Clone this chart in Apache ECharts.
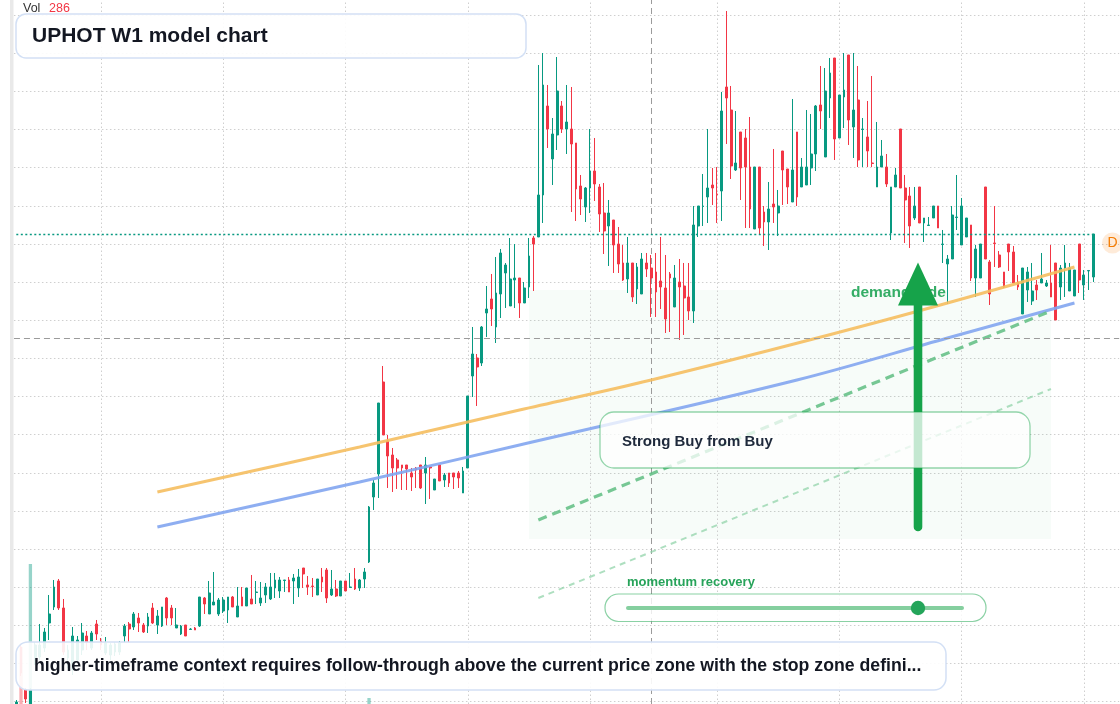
<!DOCTYPE html>
<html><head><meta charset="utf-8">
<script src="https://cdn.jsdelivr.net/npm/echarts@6/dist/echarts.min.js"></script>
<style>html,body{margin:0;padding:0;background:#fff;overflow:hidden}#c{width:1120px;height:704px}</style>
</head><body><div id="c"></div>
<script>
// ---- categories (weekly bars + a few empty future weeks) ----
const weeks = [];
for (let i = 0; i < 235; i++) {
  const d = new Date(Date.UTC(2020, 0, 6 + 7 * i));
  weeks.push(d.toISOString().slice(0, 10));
}
// week indices carrying the vertical grid lines
const gridWeeks = [18, 44, 70, 96, 122, 149, 175, 201, 227];

// ---- OHLC (price) ----
const open = [1.03,1.68,1.25,1.10,1.55,1.58,1.67,1.92,2.08,2.34,2.07,1.57,1.45,1.55,1.65,1.79,1.67,1.91,1.74,1.62,
1.60,1.63,1.63,1.79,1.91,1.88,1.97,1.90,1.89,2.07,1.90,1.89,2.17,2.07,1.87,1.81,1.90,1.855,1.87,1.89,
2.17,2.01,2.10,2.01,2.04,2.05,2.18,1.98,2.18,2.09,2.16,2.225,2.12,2.20,2.16,2.27,2.24,2.345,2.35,2.34,
2.27,2.47,2.30,2.29,2.20,2.38,2.45,2.20,2.26,2.19,2.34,2.275,2.36,2.27,2.36,2.53,3.18,3.41,4.33,3.74,
3.60,3.55,3.50,3.50,3.42,3.47,3.50,3.42,3.48,3.25,3.50,3.35,3.42,3.42,3.42,3.22,3.47,4.39,4.57,4.52,
5.02,5.16,4.88,5.21,5.42,5.09,5.35,5.37,5.12,5.28,5.77,5.78,6.20,7.09,6.56,6.80,7.09,6.86,6.86,6.72,
6.29,6.08,6.27,6.44,6.28,6.02,5.89,5.95,5.71,5.52,5.36,5.52,5.26,5.21,5.52,5.47,5.43,5.34,5.27,5.41,
5.08,5.33,5.29,5.18,5.04,5.89,6.085,6.18,6.30,6.21,6.24,7.28,7.05,6.45,6.83,6.77,6.48,5.86,6.48,6.03,
5.93,6.11,6.02,6.64,6.46,6.13,6.83,6.28,6.30,6.47,6.61,7.10,6.58,7.17,7.57,6.77,7.18,7.60,6.88,7.15,
6.855,6.78,6.52,6.28,6.48,6.48,5.82,6.28,6.86,6.27,6.19,5.97,6.28,5.92,5.895,5.97,6.09,5.705,5.51,5.56,
5.975,5.70,5.78,5.90,5.37,5.37,6.28,5.53,5.72,5.60,5.43,5.71,5.63,5.33,5.01,5.25,5.14,5.30,5.32,5.29,
5.32,5.52,5.28,5.47,5.24,5.19,5.71,5.30,5.44,5.38];
const close = [1.13,1.42,1.16,1.25,1.70,1.70,1.83,2.01,2.28,2.07,1.63,1.65,1.79,1.75,1.82,1.73,1.82,1.81,1.70,1.72,
1.70,1.71,1.72,1.89,1.86,2.01,1.92,1.83,1.98,1.92,1.99,2.08,1.97,1.97,1.90,1.89,1.79,1.86,1.85,2.18,
2.11,2.22,2.13,2.15,2.15,2.18,2.08,2.09,2.09,2.27,2.11,2.23,2.17,2.28,2.28,2.35,2.35,2.35,2.23,2.37,
2.38,2.41,2.28,2.285,2.36,2.33,2.17,2.26,2.19,2.34,2.24,2.28,2.26,2.35,2.43,3.08,3.32,4.12,3.80,3.59,
3.47,3.47,3.47,3.46,3.38,3.45,3.27,3.50,3.47,3.36,3.34,3.40,3.32,3.38,3.37,3.44,4.19,4.61,4.48,4.88,
5.06,5.06,5.22,5.62,5.50,5.36,5.37,5.12,5.27,5.59,5.71,6.20,7.30,6.86,6.81,7.24,6.86,6.93,6.71,6.26,
6.16,6.27,6.44,6.31,6.01,5.84,6.02,5.70,5.51,5.35,5.52,5.18,5.48,5.56,5.46,5.37,5.23,5.28,4.96,5.37,
5.37,5.28,5.17,5.04,5.90,6.09,6.09,6.27,6.27,6.205,7.04,7.17,6.49,6.52,6.47,6.48,6.06,6.48,5.87,5.93,
6.06,6.08,6.09,6.45,6.28,6.45,6.18,6.48,6.48,6.61,7.09,7.04,7.24,7.42,6.76,7.20,7.25,6.95,7.05,6.55,
6.86,6.64,6.515,6.48,6.59,6.31,6.28,6.40,6.27,6.15,5.89,6.09,5.92,5.97,5.90,6.09,5.87,5.71,5.56,6.00,
5.98,6.09,5.97,5.37,5.66,5.71,5.56,5.21,5.715,5.48,5.28,5.63,5.32,5.28,5.47,5.43,5.24,5.25,5.36,5.32,
5.18,4.95,5.47,5.52,5.47,5.45,5.35,5.40,5.445,5.81];
const low = [1.01,1.39,1.12,1.08,1.50,1.55,1.63,1.75,2.05,2.05,1.60,1.47,1.40,1.53,1.60,1.65,1.65,1.75,1.65,1.60,
1.55,1.59,1.60,1.73,1.73,1.85,1.83,1.82,1.82,1.91,1.81,1.88,1.90,1.90,1.87,1.80,1.79,1.85,1.85,1.88,
2.01,2.01,2.10,1.99,2.02,1.92,2.08,1.98,2.09,2.09,2.11,2.11,2.09,2.12,2.15,2.17,2.17,2.23,2.23,2.11,
2.18,2.27,2.20,2.18,2.20,2.23,2.12,2.19,2.18,2.19,2.24,2.27,2.25,2.24,2.27,2.52,3.05,3.17,3.80,3.27,
3.23,3.26,3.25,3.25,3.24,3.27,3.26,3.11,3.16,3.25,3.34,3.28,3.28,3.26,3.27,3.22,3.47,4.18,4.09,4.49,
4.78,4.89,4.72,4.97,5.07,5.09,5.07,4.97,5.12,5.17,5.24,5.78,5.92,6.67,6.30,6.65,6.82,6.61,6.03,5.94,
6.00,5.93,6.02,6.14,5.83,5.61,5.49,5.42,5.42,5.34,5.22,5.13,5.11,5.21,5.38,4.98,4.98,5.06,4.82,4.83,
5.08,4.75,4.80,4.95,4.92,5.78,5.89,5.92,6.10,5.92,5.94,6.71,6.36,6.44,6.15,5.87,5.87,5.86,5.80,5.69,
5.65,5.92,5.79,6.10,6.11,6.13,6.09,6.28,6.30,6.30,6.44,6.86,6.58,6.97,6.55,6.77,6.87,6.70,6.57,6.48,
6.48,6.48,6.48,6.28,6.48,6.28,5.75,6.28,6.27,5.72,5.67,5.95,5.92,5.73,5.895,5.97,5.87,5.52,5.11,5.56,
5.85,5.70,5.78,5.34,5.18,5.37,5.56,5.10,5.48,5.47,5.27,5.44,5.32,5.25,5.01,5.13,5.10,5.15,5.32,5.28,
5.18,4.95,5.15,5.18,5.24,5.19,5.22,5.15,5.25,5.33];
const high = [1.15,1.71,1.27,1.27,1.73,1.91,1.87,2.20,2.35,2.36,2.16,1.70,1.88,1.79,1.92,1.84,1.84,1.95,1.77,1.78,
1.72,1.73,1.74,1.91,1.93,2.03,2.02,1.92,2.02,2.12,2.05,2.08,2.18,2.10,2.07,1.90,1.90,1.87,1.88,2.18,
2.18,2.34,2.43,2.17,2.18,2.18,2.19,2.28,2.28,2.27,2.40,2.34,2.33,2.32,2.42,2.42,2.38,2.35,2.38,2.41,
2.46,2.47,2.39,2.37,2.36,2.47,2.47,2.45,2.35,2.34,2.34,2.42,2.47,2.36,2.47,3.09,3.35,4.12,4.49,3.80,
3.67,3.57,3.50,3.50,3.47,3.48,3.50,3.58,3.48,3.36,3.50,3.42,3.42,3.42,3.44,3.48,4.19,4.88,4.61,4.89,
5.29,5.41,5.58,5.66,5.52,5.77,5.71,5.37,5.33,5.77,5.79,7.50,7.62,7.30,6.97,7.58,7.14,7.30,7.28,6.72,
6.40,6.28,6.86,6.77,6.31,6.32,6.15,5.95,5.88,5.70,5.78,5.52,5.52,5.62,5.62,5.60,5.62,5.78,5.60,5.43,
5.50,5.56,5.52,5.52,6.09,6.09,6.41,6.86,6.47,6.48,7.23,8.04,7.29,7.04,6.83,6.86,6.98,6.48,6.48,6.09,
6.33,6.66,6.25,6.64,6.46,7.16,6.83,6.57,7.05,7.01,7.10,7.49,7.47,7.57,7.57,7.20,7.62,7.60,7.62,7.49,
6.97,7.14,7.39,6.93,6.75,6.61,6.28,6.47,6.86,6.40,6.28,6.28,6.28,5.97,5.98,6.09,6.09,5.85,5.60,6.09,
6.40,6.17,5.97,5.90,5.70,5.71,6.28,5.55,6.09,5.64,5.43,5.71,5.69,5.40,5.47,5.48,5.52,5.35,5.62,5.35,
5.70,5.52,5.50,5.70,5.52,5.45,5.71,5.45,5.45,5.81];
// weekly volume (only bars tall enough to be seen are known)
const volume = [];
for (let i = 0; i < open.length; i++) volume.push('-');
volume[1] = 930; volume[3] = 1760; volume[75] = 420; volume[229] = 286;

// ---- drawn studies, [week index, price] ----
const upperTrend = [[30,3.23],[73,3.68],[107,4.05],[135,4.35],[184,4.94],[225,5.48]];
const lowerTrend = [[30,2.88],[73,3.33],[107,3.70],[166,4.35],[198,4.77],[225,5.12]];
const supportDash = [[111,2.95],[220,5.04]];
const projectionDash = [[111,2.17],[220,4.26]];
const demandZone = [[109,5.25],[220,2.76]];
const crossWeek = 135, crossPrice = 4.77;

const UP = '#089981', DOWN = '#f23645';
const candles = open.map((o, i) => [o, close[i], low[i], high[i]]);
const lastClose = close[close.length - 1];

const chart = echarts.init(document.getElementById('c'), null, {renderer: 'canvas'});
const gridDot = {color: '#cfcfcf', width: 1, type: [1.5, 2.5]};
const LEFT = 13.95, RIGHT = 0.85;
const hiddenCat = (g) => ({type: 'category', data: weeks, gridIndex: g, boundaryGap: true,
  axisLine: {show: false}, axisTick: {show: false}, axisLabel: {show: false}, splitLine: {show: false}});
chart.setOption({
  animation: false,
  grid: [
    {left: LEFT, right: RIGHT, top: 15.1, bottom: 2.3},
    {left: LEFT, right: RIGHT, top: 504, bottom: 0},
    {left: LEFT, right: RIGHT, top: 0, bottom: 0}
  ],
  xAxis: [hiddenCat(0), hiddenCat(1), hiddenCat(2)],
  yAxis: [
    {type: 'value', gridIndex: 0, min: 1.133, max: 7.99892, interval: 0.38144,
     axisLine: {show: false}, axisTick: {show: false}, axisLabel: {show: false},
     splitLine: {show: true, lineStyle: gridDot}},
    {type: 'value', gridIndex: 1, min: 360, max: 2360,
     axisLine: {show: false}, axisTick: {show: false}, axisLabel: {show: false}, splitLine: {show: false}},
    {type: 'value', gridIndex: 2, min: 0, max: 1, show: false}
  ],
  series: [
    {type: 'line', xAxisIndex: 2, yAxisIndex: 2, data: [], silent: true, z: 1,
     markLine: {silent: true, symbol: ['none', 'none'], label: {show: false}, z: 1,
       data: gridWeeks.map(i => ({xAxis: weeks[i], lineStyle: gridDot})).concat([
         {xAxis: weeks[crossWeek], lineStyle: {color: '#9b9b9b', width: 1, type: [6, 4]}}])}
    },
    {type: 'bar', xAxisIndex: 1, yAxisIndex: 1, barWidth: 3.3, silent: true, z: 1,
     data: volume.map((v, i) => ({value: v, itemStyle: {color: close[i] >= open[i] ? 'rgba(8,153,129,0.42)' : 'rgba(242,54,69,0.42)'}}))
    },
    {type: 'candlestick', data: candles, barWidth: 2.3, clip: false, z: 3,
     itemStyle: {color: UP, color0: DOWN, borderColor: UP, borderColor0: DOWN, borderWidth: 1},
     markArea: {silent: true, itemStyle: {color: 'rgba(22,163,74,0.035)'},
       data: [[{coord: [demandZone[0][0], demandZone[0][1]]}, {coord: [demandZone[1][0], demandZone[1][1]]}]]},
     markLine: {silent: true, symbol: ['none', 'none'], label: {show: false}, z: 6,
       data: [
         [{coord: [0, lastClose], lineStyle: {color: UP, width: 1.4, type: [2, 2.5]}}, {coord: [close.length - 1, lastClose]}],
         {yAxis: crossPrice, lineStyle: {color: '#9b9b9b', width: 1.2, type: [6, 4]}}
       ]}
    },
    {type: 'line', data: upperTrend, smooth: 0.35, symbol: 'none', silent: true, z: 4, clip: false,
     lineStyle: {color: 'rgba(245,190,95,0.9)', width: 3}},
    {type: 'line', data: lowerTrend, smooth: 0.35, symbol: 'none', silent: true, z: 4, clip: false,
     lineStyle: {color: 'rgba(130,165,240,0.9)', width: 3}},
    {type: 'line', data: supportDash, symbol: 'none', silent: true, z: 4,
     lineStyle: {color: 'rgba(95,190,130,0.85)', width: 3.2, type: [9, 6]}},
    {type: 'line', data: projectionDash, symbol: 'none', silent: true, z: 4,
     lineStyle: {color: 'rgba(140,210,165,0.7)', width: 2, type: [6, 5]}}
  ],
  graphic: [
    {type: 'rect', z: 50, silent: true, shape: {x: 10, y: 0, width: 3.5, height: 704}, style: {fill: '#e9e9e9'}},
    {type: 'text', z: 60, silent: true, style: {x: 23, y: 8.5, text: 'Vol', font: '12.5px "Liberation Sans", Arial, sans-serif', fill: '#333', verticalAlign: 'middle'}},
    {type: 'text', z: 60, silent: true, style: {x: 49, y: 8.5, text: String(volume[229]), font: '12.5px "Liberation Sans", Arial, sans-serif', fill: '#f23645', verticalAlign: 'middle'}},
    {type: 'rect', z: 60, silent: true, shape: {x: 16, y: 14, width: 510, height: 44, r: 10},
     style: {fill: 'rgba(255,255,255,0.92)', stroke: '#d3e0f5', lineWidth: 1.5}},
    {type: 'text', z: 61, silent: true, style: {x: 32, y: 36, text: 'UPHOT W1 model chart', font: 'bold 21px "Liberation Sans", Arial, sans-serif', fill: '#131722', verticalAlign: 'middle'}},
    {type: 'text', z: 62, silent: true, style: {x: 851, y: 293, text: 'demand side', font: 'bold 15.5px "Liberation Sans", Arial, sans-serif', fill: '#34ad66', verticalAlign: 'middle'}},
    {type: 'line', z: 63, silent: true, shape: {x1: 918, y1: 527, x2: 918, y2: 300}, style: {stroke: '#16a34a', lineWidth: 8.6, lineCap: 'round'}},
    {type: 'polygon', z: 63, silent: true, shape: {points: [[918, 262.5], [898, 305.5], [938, 305.5]]}, style: {fill: '#16a34a'}},
    {type: 'rect', z: 64, silent: true, shape: {x: 600, y: 412, width: 430, height: 56, r: 14},
     style: {fill: 'rgba(255,255,255,0.75)', stroke: 'rgba(22,163,74,0.45)', lineWidth: 1.3}},
    {type: 'text', z: 65, silent: true, style: {x: 622, y: 442, text: 'Strong Buy from Buy', font: 'bold 15px "Liberation Sans", Arial, sans-serif', fill: '#1e293b', verticalAlign: 'middle'}},
    {type: 'text', z: 65, silent: true, style: {x: 627, y: 582.5, text: 'momentum recovery', font: 'bold 13px "Liberation Sans", Arial, sans-serif', fill: '#27a35a', verticalAlign: 'middle'}},
    {type: 'rect', z: 64, silent: true, shape: {x: 605, y: 594, width: 381, height: 27.5, r: 13.5},
     style: {fill: 'rgba(255,255,255,0.8)', stroke: 'rgba(22,163,74,0.5)', lineWidth: 1.2}},
    {type: 'line', z: 65, silent: true, shape: {x1: 628, y1: 608, x2: 962, y2: 608}, style: {stroke: '#85cf9f', lineWidth: 4, lineCap: 'round'}},
    {type: 'circle', z: 66, silent: true, shape: {cx: 918, cy: 608, r: 7.2}, style: {fill: '#24a55a'}},
    {type: 'rect', z: 60, silent: true, shape: {x: 16, y: 642, width: 930, height: 48, r: 12},
     style: {fill: 'rgba(255,255,255,0.9)', stroke: '#d3e0f5', lineWidth: 1.5}},
    {type: 'text', z: 61, silent: true, style: {x: 34, y: 666, text: 'higher-timeframe context requires follow-through above the current price zone with the stop zone defini...', font: 'bold 17.7px "Liberation Sans", Arial, sans-serif', fill: '#131722', verticalAlign: 'middle'}},
    {type: 'circle', z: 60, silent: true, shape: {cx: 1112.5, cy: 243, r: 10.5}, style: {fill: 'rgba(245,124,0,0.15)'}},
    {type: 'text', z: 61, silent: true, style: {x: 1112.5, y: 243.5, text: 'D', font: '14px "Liberation Sans", Arial, sans-serif', fill: '#f57c00', align: 'center', verticalAlign: 'middle'}}
  ]
});
</script>
</body></html>
